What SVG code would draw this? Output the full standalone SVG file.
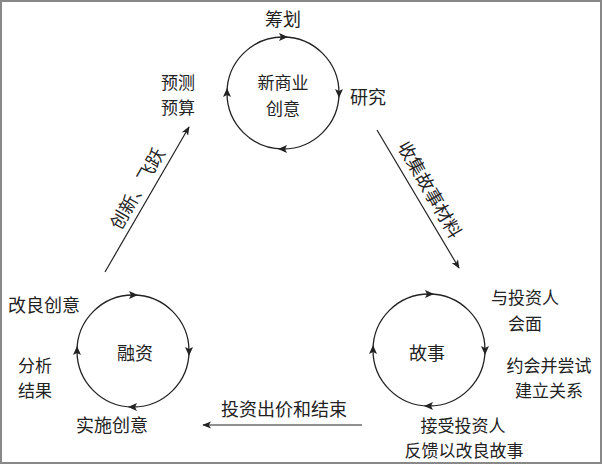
<svg xmlns="http://www.w3.org/2000/svg" width="602" height="464" viewBox="0 0 602 464">
<defs>
<style>
text{font-family:"Noto Sans CJK SC","Noto Sans",sans-serif;font-size:18px;fill:#222;text-anchor:middle;dominant-baseline:central}
text.two{font-size:17px}
.ring{fill:none;stroke:#222;stroke-width:1.3}
.line{fill:none;stroke:#222;stroke-width:1.2}
.head{fill:#222}
</style>
<marker id="arr" viewBox="0 0 10 10" refX="9" refY="5" markerWidth="9" markerHeight="9" markerUnits="userSpaceOnUse" orient="auto">
<path d="M0,1 L10,5 L0,9 L2.5,5 Z" fill="#222"/>
</marker>
<path id="tri" d="M-4,-4 L5,0 L-4,4 L-2,0 Z"/>
</defs>
<rect x="1" y="1" width="600" height="462" fill="#fff" stroke="#888" stroke-width="2"/>

<g id="node-idea">
<circle class="ring" cx="283" cy="93" r="56"/>
<use href="#tri" class="head" transform="translate(283,37)"/>
<use href="#tri" class="head" transform="translate(339,93) rotate(90)"/>
<use href="#tri" class="head" transform="translate(283,149) rotate(180)"/>
<use href="#tri" class="head" transform="translate(227,93) rotate(-90)"/>
<text class="two" x="283" y="81.5">新商业<tspan x="283" y="106.5">创意</tspan></text>
<text x="283" y="18">筹划</text>
<text x="368" y="96">研究</text>
<text class="two" x="178" y="81">预测<tspan x="178" y="106">预算</tspan></text>
</g>

<g id="node-finance">
<circle class="ring" cx="133" cy="351" r="56"/>
<use href="#tri" class="head" transform="translate(133,295)"/>
<use href="#tri" class="head" transform="translate(189,351) rotate(90)"/>
<use href="#tri" class="head" transform="translate(133,407) rotate(180)"/>
<use href="#tri" class="head" transform="translate(77,351) rotate(-90)"/>
<text x="135" y="352">融资</text>
<text x="44" y="304">改良创意</text>
<text class="two" x="35" y="364">分析<tspan x="35" y="389">结果</tspan></text>
<text x="112" y="424">实施创意</text>
</g>

<g id="node-story">
<circle class="ring" cx="429" cy="350" r="56"/>
<use href="#tri" class="head" transform="translate(429,294)"/>
<use href="#tri" class="head" transform="translate(485,350) rotate(90)"/>
<use href="#tri" class="head" transform="translate(429,406) rotate(180)"/>
<use href="#tri" class="head" transform="translate(373,350) rotate(-90)"/>
<text x="427" y="352">故事</text>
<text class="two" x="525" y="296.5">与投资人<tspan x="525" y="321.5">会面</tspan></text>
<text class="two" x="549" y="364">约会并尝试<tspan x="549" y="389">建立关系</tspan></text>
<text class="two" x="463" y="424">接受投资人<tspan x="464" y="449">反馈以改良故事</tspan></text>
</g>

<g id="connectors">
<line class="line" x1="105" y1="272" x2="189" y2="127" marker-end="url(#arr)"/>
<line class="line" x1="377" y1="130" x2="459" y2="268" marker-end="url(#arr)"/>
<line class="line" x1="362" y1="425" x2="203" y2="425" marker-end="url(#arr)"/>
<text x="136" y="188" transform="rotate(-60 136 188)">创新、飞跃</text>
<text x="431" y="189" transform="rotate(60 431 189)">收集故事材料</text>
<text x="284" y="408">投资出价和结束</text>
</g>
</svg>
